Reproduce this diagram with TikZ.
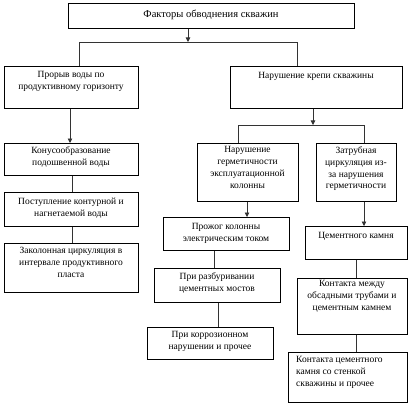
\documentclass[tikz,border=0pt]{standalone}
\usepackage{fontspec}
\setmainfont{Liberation Serif}
\usetikzlibrary{arrows.meta}
\begin{document}
\begin{tikzpicture}[x=1pt,y=-1pt,
  box/.style={draw, line width=0.7pt, inner sep=0pt, anchor=north west},
  lbl/.style={font=\fontsize{9.5}{11.8}\selectfont, align=center, anchor=north, inner sep=0pt},
  lbll/.style={font=\fontsize{9.5}{11.8}\selectfont, align=left, anchor=north west, inner sep=0pt},
  ln/.style={draw, line width=0.7pt, color=black!80},
  arr/.style={ln, -{Triangle[length=4.5pt,width=4.5pt]}}]
\useasboundingbox (0,0) rectangle (412,409);
% boxes
\node[box, minimum width=286, minimum height=25] (top) at (68,3) {};
\node[box, minimum width=134, minimum height=42] (L1) at (4,66) {};
\node[box, minimum width=172, minimum height=42] (R1) at (230,66) {};
\node[box, minimum width=134, minimum height=32] (L2) at (4,143) {};
\node[box, minimum width=134, minimum height=34] (L3) at (4,192) {};
\node[box, minimum width=134, minimum height=49] (L4) at (4,243) {};
\node[box, minimum width=101, minimum height=58] (R2a) at (197,143) {};
\node[box, minimum width=80, minimum height=58] (R2b) at (316,143) {};
\node[box, minimum width=126, minimum height=33] (R3) at (163,217) {};
\node[box, minimum width=126, minimum height=34] (R4) at (154,268) {};
\node[box, minimum width=126, minimum height=32] (R5) at (147,327) {};
\node[box, minimum width=102, minimum height=33] (R6) at (305,226) {};
\node[box, minimum width=110, minimum height=56] (R7) at (297,278) {};
\node[box, minimum width=119, minimum height=50] (R8) at (288,352) {};
% texts
\node[lbl, font=\fontsize{10.5}{12}\selectfont] (ttop) at (211,10) {Факторы обводнения скважин};
\node[lbl] (tL1) at (71,71.5) {Прорыв воды по\\продуктивному горизонту};
\node[lbl] (tR1) at (316,72.5) {Нарушение крепи скважины};
\node[lbl] (tL2) at (71,146.5) {Конусообразование\\подошвенной воды};
\node[lbl] (tL3) at (71,197.5) {Поступление контурной и\\нагнетаемой воды};
\node[lbl] (tL4) at (71,247.5) {Заколонная циркуляция в\\интервале продуктивного\\пласта};
\node[lbl] (tR2a) at (247.5,146.5) {Нарушение\\герметичности\\эксплуатационной\\колонны};
\node[lbl] (tR2b) at (356,146.5) {Затрубная\\циркуляция из-\\за нарушения\\герметичности};
\node[lbl] (tR3) at (226,223.5) {Прожог колонны\\электрическим током};
\node[lbl] (tR4) at (217,272.5) {При разбуривании\\цементных мостов};
\node[lbl] (tR5) at (210,331.5) {При коррозионном\\нарушении и прочее};
\node[lbl] (tR6) at (356,232.5) {Цементного камня};
\node[lbl] (tR7) at (352,280.5) {Контакта между\\обсадными трубами и\\цементным камнем};
\node[lbll] (tR8) at (296,356.5) {Контакта цементного\\камня со стенкой\\скважины и прочее};
% junctions
\coordinate (j1) at (188,42);
\coordinate (cA) at (79,42);
\coordinate (cB) at (297,42);
\coordinate (cL) at (70,108);
\coordinate (cR) at (313,125);
\coordinate (cC) at (238,125);
\coordinate (cD) at (364,125);
\coordinate (v1) at (214,0);
\coordinate (v2) at (218,0);
\coordinate (v3) at (356,0);
\coordinate (v4) at (247,0);
\coordinate (v5) at (72,0);
% connectors
\draw[arr] (top.south -| j1) -- (j1);
\draw[ln] (L1.north -| cA) -- (cA) -- (cB) -- (R1.north -| cB);
\draw[arr] (L1.south -| cL) -- (L2.north -| cL);
\draw[ln] (L2.south -| v5) -- (L3.north -| v5);
\draw[ln] (L3.south -| v5) -- (L4.north -| v5);
\draw[arr] (R1.south -| cR) -- (cR);
\draw[ln] (R2a.north -| cC) -- (cC) -- (cD) -- (R2b.north -| cD);
\draw[arr] (R2a.south -| v4) -- (R3.north -| v4);
\draw[ln] (R3.south -| v1) -- (R4.north -| v1);
\draw[ln] (R4.south -| v2) -- (R5.north -| v2);
\draw[arr] (R2b.south -| cD) -- (R6.north -| cD);
\draw[ln] (R6.south -| v3) -- (R7.north -| v3);
\draw[ln] (R7.south -| v3) -- (R8.north -| v3);
\end{tikzpicture}
\end{document}
